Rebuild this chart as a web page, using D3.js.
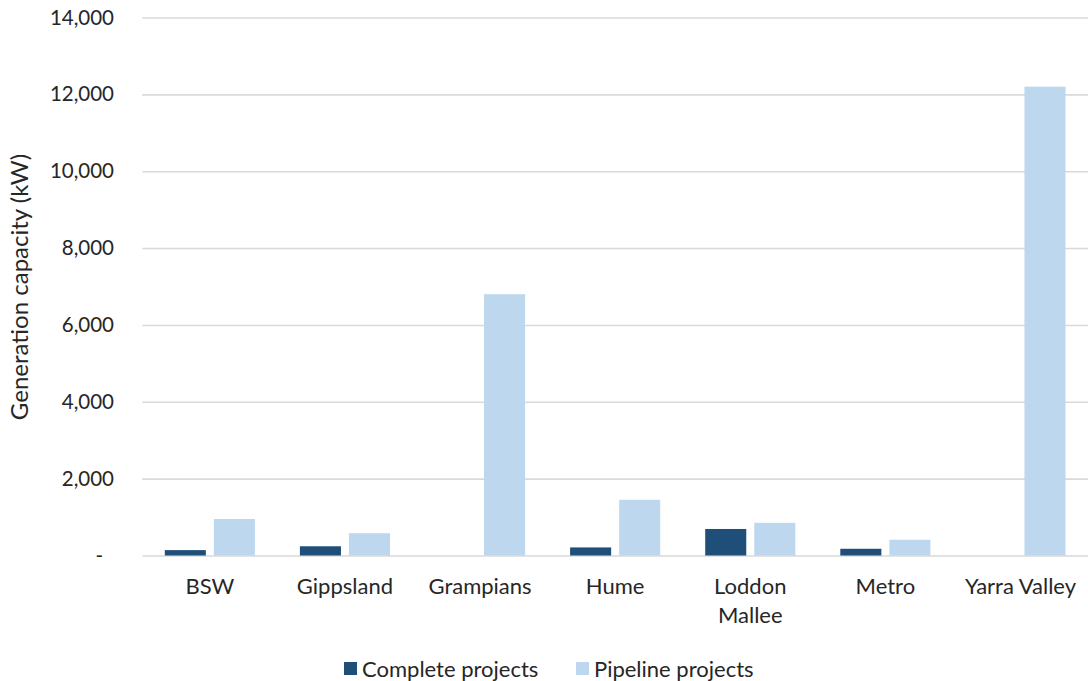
<!DOCTYPE html>
<html>
<head>
<meta charset="utf-8">
<script src="https://cdn.jsdelivr.net/npm/d3@7"></script>
<style>
  html, body { margin: 0; padding: 0; background: #ffffff; }
  svg { display: block; }
  text { font-family: Lato, "Open Sans", sans-serif; fill: #262626; }
</style>
</head>
<body>
<svg id="chart" width="1088" height="681"></svg>
<script>
// Regions and generation capacity (kW)
const regions = ["BSW", "Gippsland", "Grampians", "Hume", "Loddon Mallee", "Metro", "Yarra Valley"];
const regionLines = [["BSW"], ["Gippsland"], ["Grampians"], ["Hume"], ["Loddon", "Mallee"], ["Metro"], ["Yarra Valley"]];
const seriesNames = ["Complete projects", "Pipeline projects"];
const completeKW = [140, 240, 0, 210, 690, 175, 0];
const pipelineKW = [950, 580, 6800, 1450, 850, 410, 12200];
const yTicks = [0, 2000, 4000, 6000, 8000, 10000, 12000, 14000];
const seriesColors = ["#1F4E79", "#BDD7EE"];

const svg = d3.select("#chart");
const plot = { left: 142.3, right: 1088, top: 17.5, bottom: 555.5 };

const x0 = d3.scaleBand().domain(regions).range([plot.left, plot.right]).paddingInner(0).paddingOuter(0);
const x1 = d3.scaleBand().domain(seriesNames)
  .range([22.5, x0.bandwidth() - 22.5]).paddingInner(0.163).paddingOuter(0);
const y = d3.scaleLinear().domain([0, 14000]).range([plot.bottom, plot.top]);

// Horizontal gridlines
const grid = svg.append("g").attr("transform", `translate(${plot.left},0)`)
  .call(d3.axisLeft(y).tickValues(yTicks).tickSize(-(plot.right - plot.left)).tickFormat(""));
grid.select(".domain").remove();
grid.selectAll(".tick line").attr("stroke", "#d9d9d9").attr("stroke-width", 1.6);

// Y-axis labels
const fmt = d3.format(",");
const yAxis = svg.append("g").attr("transform", "translate(114,0)")
  .call(d3.axisLeft(y).tickValues(yTicks).tickSize(0).tickPadding(0)
    .tickFormat(d => d === 0 ? "-" : fmt(d)));
yAxis.select(".domain").remove();
yAxis.selectAll(".tick text")
  .attr("font-size", 20.5).attr("font-family", "Lato, sans-serif").attr("fill", "#262626")
  .attr("dx", d => d === 0 ? -11 : 0);

// Bars
const rows = regions.map((r, i) => ({ region: r, values: [completeKW[i], pipelineKW[i]] }));
const groups = svg.append("g").selectAll("g").data(rows).join("g")
  .attr("transform", d => `translate(${x0(d.region)},0)`);
groups.selectAll("rect")
  .data(d => d.values.map((v, k) => ({ name: seriesNames[k], value: v, k })))
  .join("rect")
  .attr("x", d => x1(d.name))
  .attr("width", x1.bandwidth())
  .attr("y", d => y(d.value))
  .attr("height", d => y(0) - y(d.value))
  .attr("fill", d => seriesColors[d.k]);

// Category labels
const cat = svg.append("g").selectAll("text").data(regions).join("text")
  .attr("x", d => x0(d) + x0.bandwidth() / 2)
  .attr("y", 594)
  .attr("text-anchor", "middle")
  .attr("font-size", 22);
cat.each(function (d, i) {
  const t = d3.select(this);
  regionLines[i].forEach((line, j) => {
    t.append("tspan").attr("x", x0(d) + x0.bandwidth() / 2).attr("dy", j === 0 ? 0 : 29).text(line);
  });
});

// Y-axis title
svg.append("text")
  .attr("transform", "translate(28,287) rotate(-90)")
  .attr("text-anchor", "middle")
  .attr("font-size", 24)
  .text("Generation capacity (kW)");

// Legend
const legendItems = [
  { name: seriesNames[0], color: seriesColors[0], x: 344 },
  { name: seriesNames[1], color: seriesColors[1], x: 576 }
];
const lg = svg.append("g").selectAll("g").data(legendItems).join("g")
  .attr("transform", d => `translate(${d.x},0)`);
lg.append("rect").attr("x", 0).attr("y", 662).attr("width", 13).attr("height", 13).attr("fill", d => d.color);
lg.append("text").attr("x", 18).attr("y", 677).attr("font-size", 22).text(d => d.name);
</script>
</body>
</html>
